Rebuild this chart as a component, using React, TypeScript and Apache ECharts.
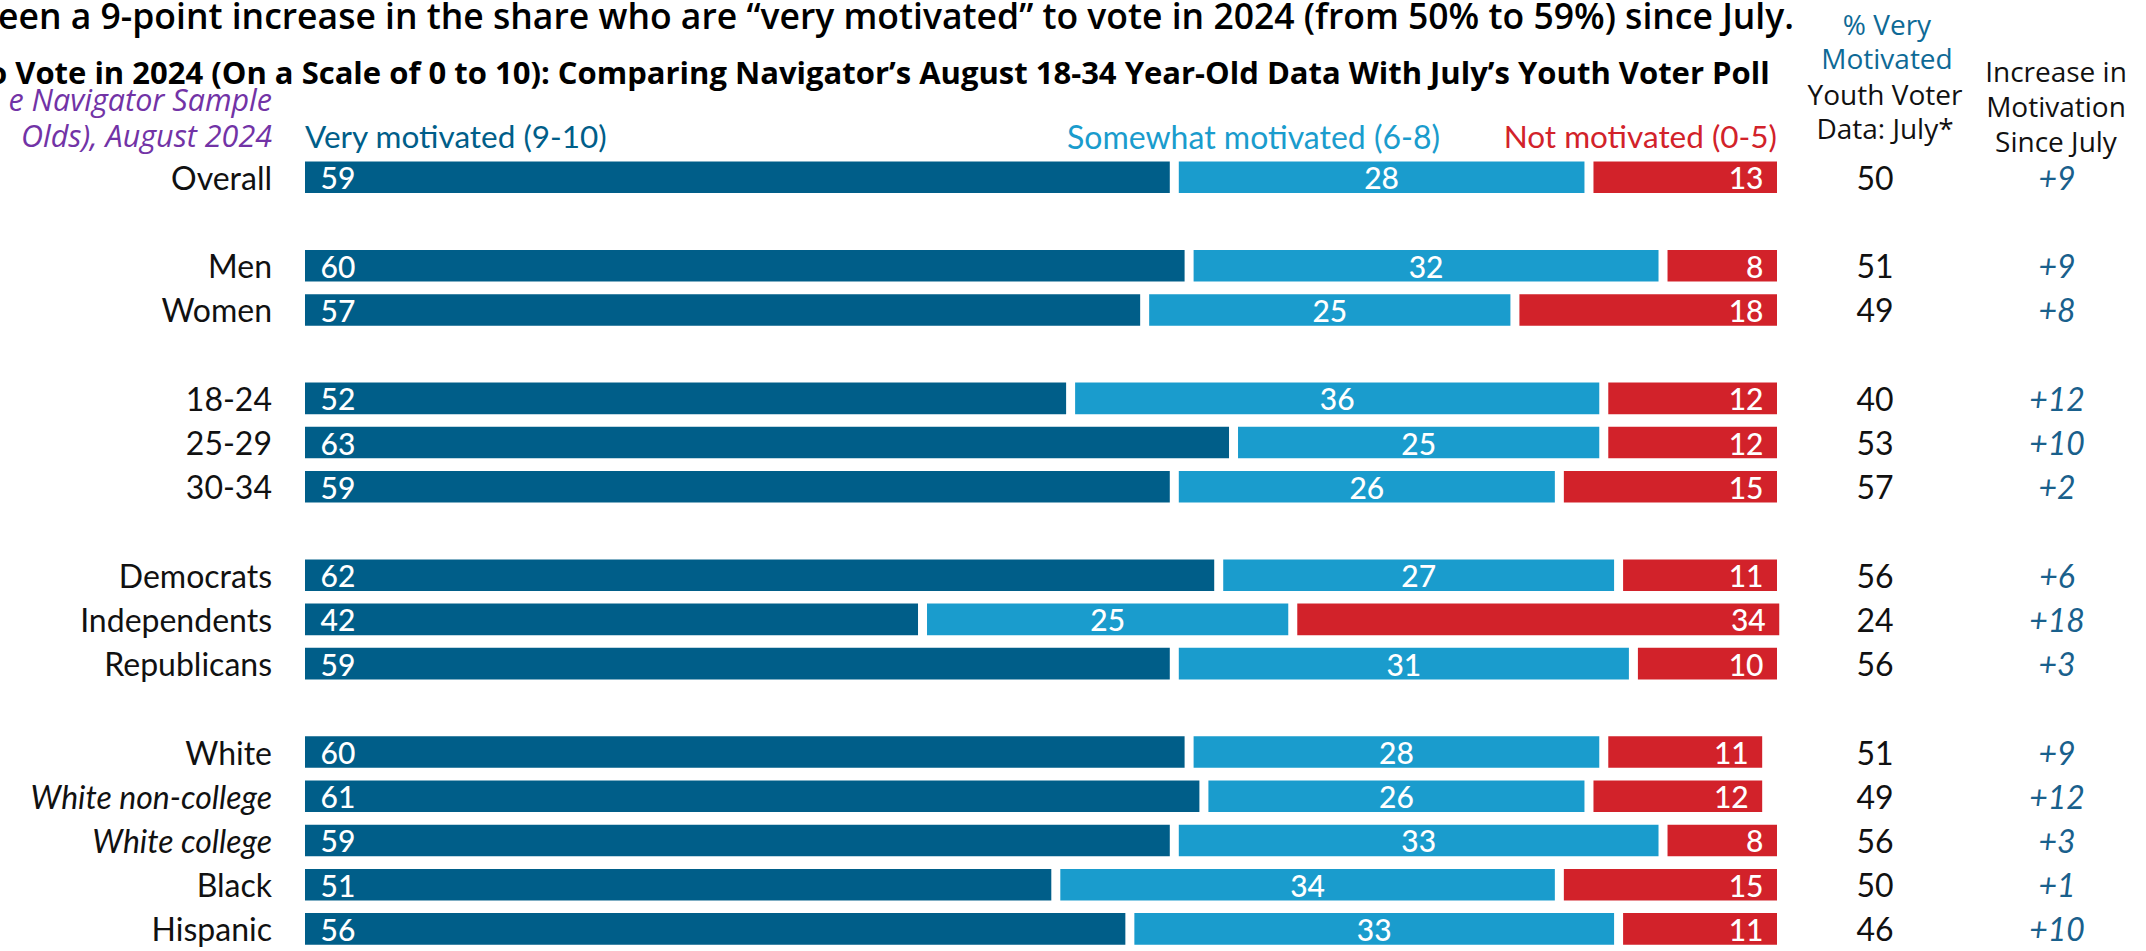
import React, { useEffect, useRef } from "react";
import * as echarts from "echarts";

// Row categories, blank entries are spacer rows between groups
const CATEGORIES = [
  "Overall", "",
  "Men", "Women", "",
  "18-24", "25-29", "30-34", "",
  "Democrats", "Independents", "Republicans", "",
  "White", "White non-college", "White college", "Black", "Hispanic",
];
const ITALIC_ROWS = ["White non-college", "White college"];

const VERY_MOTIVATED = [59, null, 60, 57, null, 52, 63, 59, null, 62, 42, 59, null, 60, 61, 59, 51, 56];
const SOMEWHAT_MOTIVATED = [28, null, 32, 25, null, 36, 25, 26, null, 27, 25, 31, null, 28, 26, 33, 34, 33];
const NOT_MOTIVATED = [13, null, 8, 18, null, 12, 12, 15, null, 11, 34, 10, null, 11, 12, 8, 15, 11];
const JULY_VERY = [50, null, 51, 49, null, 40, 53, 57, null, 56, 24, 56, null, 51, 49, 56, 50, 46];
const INCREASE = [9, null, 9, 8, null, 12, 10, 2, null, 6, 18, 3, null, 9, 12, 3, 1, 10];

const FONT = "Lato, 'Noto Sans', sans-serif";
const WIDE_FONT = "'Open Sans', Lato, sans-serif";
const DARK = "#005E89";
const LIGHT = "#1A9CCD";
const RED = "#D2222A";
const PURPLE = "#7233A6";

export default function App() {
  const ref = useRef<HTMLDivElement | null>(null);

  useEffect(() => {
    if (!ref.current) return;
    const chart = echarts.init(ref.current, undefined, { renderer: "svg" });

    const GRID_LEFT = 300.5;
    const GRID_RIGHT_X = 1781.5;
    const grid = { left: GRID_LEFT, top: 155.2, width: GRID_RIGHT_X - GRID_LEFT, height: 803.7 };

    const barBase = {
      type: "bar" as const,
      stack: "total",
      barWidth: 40.6,
      itemStyle: { borderColor: "#ffffff", borderWidth: 4.5 },
      label: {
        show: true,
        color: "#ffffff",
        fontFamily: FONT,
        fontSize: 30,
        fontWeight: 500,
      },
      emphasis: { disabled: true },
    };

    const hiddenAxisParts = {
      axisLine: { show: false },
      axisTick: { show: false },
      splitLine: { show: false },
    };

    const text = (
      t: string,
      x: number,
      y: number,
      size: number,
      fill: string,
      opts: { align?: string; weight?: number | string; italic?: boolean; family?: string } = {}
    ) => ({
      type: "text",
      x,
      y,
      silent: true,
      style: {
        text: t,
        fill,
        fontFamily: opts.family ?? FONT,
        fontSize: size,
        fontWeight: opts.weight ?? 400,
        fontStyle: opts.italic ? "italic" : "normal",
        align: opts.align ?? "left",
        verticalAlign: "middle",
      },
    });

    chart.setOption({
      animation: false,
      backgroundColor: "#ffffff",
      grid,
      xAxis: {
        type: "value",
        min: 0,
        max: 100,
        show: false,
      },
      yAxis: [
        {
          type: "category",
          inverse: true,
          data: CATEGORIES,
          ...hiddenAxisParts,
          axisLabel: {
            margin: 28.5,
            fontFamily: FONT,
            fontSize: 32,
            color: "#111111",
            formatter: (v: string) => (ITALIC_ROWS.includes(v) ? `{i|${v}}` : v),
            rich: {
              i: { fontFamily: FONT, fontSize: 32, fontStyle: "italic", color: "#111111" },
            },
          },
        },
        {
          type: "category",
          inverse: true,
          position: "right",
          data: CATEGORIES,
          ...hiddenAxisParts,
          axisLabel: {
            margin: 1875 - GRID_RIGHT_X,
            align: "center",
            fontFamily: FONT,
            fontSize: 32,
            color: "#111111",
            formatter: (_v: string, i: number) => (JULY_VERY[i] == null ? "" : String(JULY_VERY[i])),
          },
        },
        {
          type: "category",
          inverse: true,
          position: "right",
          data: CATEGORIES,
          ...hiddenAxisParts,
          axisLabel: {
            margin: 2057 - GRID_RIGHT_X,
            align: "center",
            fontFamily: FONT,
            fontSize: 32,
            fontStyle: "italic",
            color: "#19608C",
            formatter: (_v: string, i: number) => (INCREASE[i] == null ? "" : `+${INCREASE[i]}`),
          },
        },
      ],
      series: [
        {
          ...barBase,
          name: "Very motivated (9-10)",
          data: VERY_MOTIVATED,
          itemStyle: { ...barBase.itemStyle, color: DARK },
          label: { ...barBase.label, position: "insideLeft", distance: 20 },
        },
        {
          ...barBase,
          name: "Somewhat motivated (6-8)",
          data: SOMEWHAT_MOTIVATED,
          itemStyle: { ...barBase.itemStyle, color: LIGHT },
          label: { ...barBase.label, position: "inside" },
        },
        {
          ...barBase,
          name: "Not motivated (0-5)",
          data: NOT_MOTIVATED,
          itemStyle: { ...barBase.itemStyle, color: RED },
          label: { ...barBase.label, position: "insideRight", distance: 18 },
        },
      ],
      graphic: [
        text(
          "een a 9-point increase in the share who are \u201cvery motivated\u201d to vote in 2024 (from 50% to 59%) since July.",
          -2, 15, 35.5, "#000000", { weight: 600, family: WIDE_FONT }
        ),
        text(
          "o Vote in 2024 (On a Scale of 0 to 10): Comparing Navigator\u2019s August 18-34 Year-Old Data With July\u2019s Youth Voter Poll",
          -12, 72, 31, "#000000", { weight: 700, family: WIDE_FONT }
        ),
        text("e Navigator Sample", 272, 99, 30.5, PURPLE, { align: "right", italic: true, family: WIDE_FONT }),
        text("Olds), August 2024", 272, 135, 30.5, PURPLE, { align: "right", italic: true, family: WIDE_FONT }),
        text("Very motivated (9-10)", 305, 136, 31.5, DARK),
        text("Somewhat motivated (6-8)", 1067, 136, 32, LIGHT),
        text("Not motivated (0-5)", 1777, 136, 31.5, RED, { align: "right" }),
        text("% Very", 1887, 24, 28, "#0E6A96", { align: "center", family: WIDE_FONT }),
        text("Motivated", 1887, 58, 28, "#0E6A96", { align: "center", family: WIDE_FONT }),
        text("Youth Voter", 1885, 94, 28, "#111111", { align: "center", family: WIDE_FONT }),
        text("Data: July*", 1885, 128, 28, "#111111", { align: "center", family: WIDE_FONT }),
        text("Increase in", 2056, 71, 28, "#111111", { align: "center", family: WIDE_FONT }),
        text("Motivation", 2056, 106, 28, "#111111", { align: "center", family: WIDE_FONT }),
        text("Since July", 2056, 141, 28, "#111111", { align: "center", family: WIDE_FONT }),
      ],
    });

    return () => {
      chart.dispose();
    };
  }, []);

  return (
    <div
      ref={ref}
      style={{ position: "fixed", left: 0, top: 0, width: 2146, height: 951, background: "#ffffff" }}
    />
  );
}
